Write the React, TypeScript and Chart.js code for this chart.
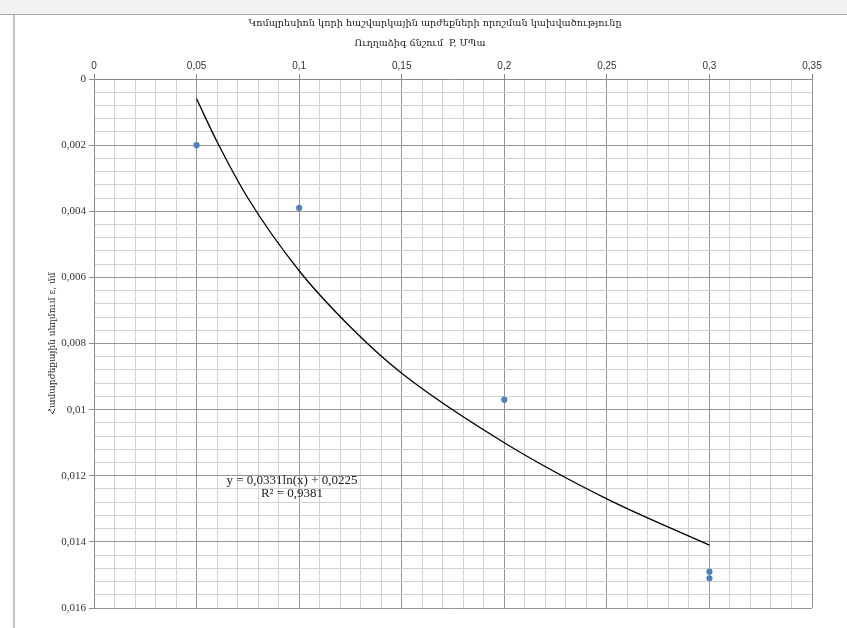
import React, { useEffect, useRef } from "react";
import { Chart, registerables } from "chart.js";

Chart.register(...registerables);

// ---- text ----
const titleText = "Կոմպրեսիոն կորի հաշվարկային արժեքների որոշման կախվածությունը";
const subtitleText = "Ուղղաձիգ ճնշում  P, ՄՊա";
const yAxisTitle = "Համարժեքային սեղմում ε, մմ";
const equationText = "y = 0,0331ln(x) + 0,0225";
const r2Text = "R² = 0,9381";

// ---- data ----
const pressureX = [0.05, 0.1, 0.2, 0.3, 0.3];
const strainY = [0.002, 0.0039, 0.0097, 0.0149, 0.0151];

// logarithmic trend line
const trendX = [0.05, 0.06, 0.075, 0.1, 0.125, 0.15, 0.2, 0.25, 0.3];
const trendY = [0.0006, 0.0019, 0.0036, 0.0058, 0.0075, 0.0089, 0.011, 0.0127, 0.0141];

// ---- axes ----
const xMin = 0;
const xMax = 0.35;
const xMajor = 0.05;
const xMinor = 0.01;
const yMin = 0;
const yMax = 0.016;
const yMajor = 0.002;
const yMinor = 0.0004;

const W = 847;
const H = 628;

const isMajor = (v: number, step: number) => Math.abs(v / step - Math.round(v / step)) < 1e-6;
const fmt = (v: number) => String(+v.toFixed(4)).replace(".", ",");

const textPlugin = {
  id: "textOverlay",
  afterDraw(chart: any) {
    const ctx = chart.ctx;
    ctx.save();
    ctx.fillStyle = "#222";
    ctx.textAlign = "center";
    ctx.textBaseline = "middle";
    ctx.font = "9.7px 'DejaVu Serif', serif";
    ctx.fillText(titleText, 435, 23);
    ctx.font = "9.5px 'DejaVu Serif', serif";
    ctx.fillText(subtitleText, 420, 44);
    ctx.font = "13px 'Liberation Serif', serif";
    ctx.fillText(equationText, 292, 481);
    ctx.fillText(r2Text, 292, 494);
    ctx.restore();
  },
};

export default function App() {
  const ref = useRef<HTMLCanvasElement | null>(null);

  useEffect(() => {
    if (!ref.current) return;
    const chart = new Chart(ref.current, {
      type: "scatter",
      data: {
        datasets: [
          {
            label: "trend",
            data: trendX.map((x, i) => ({ x, y: trendY[i] })),
            showLine: true,
            borderColor: "#000",
            borderWidth: 1.3,
            pointRadius: 0,
            cubicInterpolationMode: "monotone",
            order: 1,
          } as any,
          {
            label: "data",
            data: pressureX.map((x, i) => ({ x, y: strainY[i] })),
            backgroundColor: "#4F81BD",
            borderColor: "#4F81BD",
            pointRadius: 3.1,
            borderWidth: 0,
            order: 0,
          },
        ],
      },
      options: {
        responsive: false,
        animation: false,
        devicePixelRatio: 1,
        layout: { padding: { left: 0, top: 0, right: W - 812, bottom: H - 608 } },
        plugins: {
          legend: { display: false },
          tooltip: { enabled: false },
          title: { display: false },
        },
        scales: {
          x: {
            type: "linear",
            position: "top",
            min: xMin,
            max: xMax,
            afterFit: (s: any) => {
              s.height = 79;
            },
            ticks: {
              stepSize: xMinor,
              autoSkip: false,
              maxRotation: 0,
              padding: 2,
              color: "#333",
              font: { family: "'Liberation Sans', sans-serif", size: 10 },
              callback: (v: any) => (isMajor(Number(v), xMajor) ? fmt(Number(v)) : ""),
            },
            grid: {
              color: (c: any) => (isMajor(c.tick.value, xMajor) ? "#959595" : "#d2d2d2"),
              tickColor: (c: any) => (isMajor(c.tick.value, xMajor) ? "#8a8a8a" : "transparent"),
              tickLength: 5,
              lineWidth: 1,
            },
            border: { color: "#8a8a8a" },
          },
          y: {
            type: "linear",
            reverse: true,
            min: yMin,
            max: yMax,
            afterFit: (s: any) => {
              s.width = 94;
            },
            title: {
              display: true,
              text: yAxisTitle,
              color: "#222",
              font: { family: "'DejaVu Serif', serif", size: 9 },
              padding: { top: 47, bottom: 0 },
            },
            ticks: {
              stepSize: yMinor,
              autoSkip: false,
              padding: 3,
              color: "#333",
              font: { family: "'Liberation Serif', serif", size: 11 },
              callback: (v: any) => (isMajor(Number(v), yMajor) ? fmt(Number(v)) : ""),
            },
            grid: {
              color: (c: any) => (isMajor(c.tick.value, yMajor) ? "#959595" : "#d2d2d2"),
              tickColor: (c: any) => (isMajor(c.tick.value, yMajor) ? "#8a8a8a" : "transparent"),
              tickLength: 5,
              lineWidth: 1,
            },
            border: { color: "#8a8a8a" },
          },
        },
      },
      plugins: [textPlugin],
    } as any);
    return () => chart.destroy();
  }, []);

  return (
    <div style={{ position: "fixed", left: 0, top: 0, width: W, height: H, background: "#fff", overflow: "hidden" }}>
      <div style={{ position: "absolute", left: 0, top: 0, width: W, height: 14, background: "#f2f2f2", borderBottom: "1px solid #a8a8a8" }} />
      <div style={{ position: "absolute", left: 13, top: 15, width: 2, height: H - 15, background: "#c4c4c4" }} />
      <canvas ref={ref} width={W} height={H} style={{ position: "absolute", left: 0, top: 0, width: W, height: H }} />
    </div>
  );
}
